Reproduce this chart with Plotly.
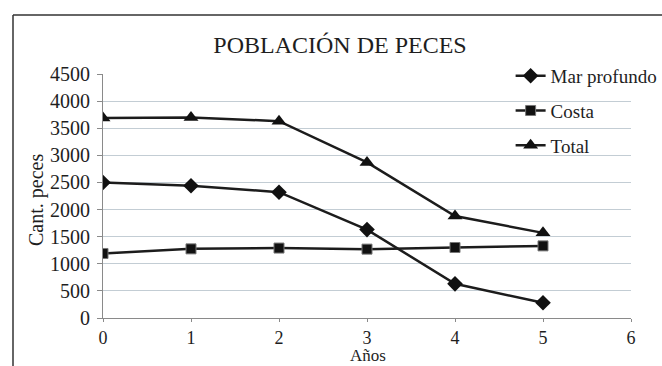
import plotly.graph_objects as go

years = [0, 1, 2, 3, 4, 5]
mar_profundo = [2500, 2440, 2320, 1630, 630, 280]
costa = [1190, 1275, 1290, 1270, 1300, 1330]
total = [3690, 3700, 3630, 2870, 1880, 1570]

series_names = ["Mar profundo", "Costa", "Total"]
x_ticks = [0, 1, 2, 3, 4, 5, 6]
y_ticks = [0, 500, 1000, 1500, 2000, 2500, 3000, 3500, 4000, 4500]

FONT = "Liberation Serif, Times New Roman, serif"
LINE = "#1c1c1c"
TXT = "#1e1e1e"

fig = go.Figure()
symbols = ["diamond", "square", "triangle-up"]
sizes = [12, 10, 13]
for name, vals, sym, sz in zip(series_names, [mar_profundo, costa, total], symbols, sizes):
    fig.add_trace(go.Scatter(
        x=years, y=vals, name=name, mode="lines+markers",
        legendgroup=name,
        line=dict(color=LINE, width=2.5),
        marker=dict(symbol=sym, size=sz, color="#111111",
                    line=dict(color="#777777", width=1 if sym == "square" else 0)),
    ))

fig.update_layout(
    width=662, height=366,
    margin=dict(l=103, r=31, t=74, b=48, autoexpand=False),
    paper_bgcolor="white", plot_bgcolor="white",
    font=dict(family=FONT, size=20, color=TXT),
    title=dict(text="POBLACIÓN DE PECES", font=dict(family=FONT, size=24, color=TXT),
               x=340 / 662, xref="container", xanchor="center",
               y=1 - 45 / 366, yref="container", yanchor="middle"),
    showlegend=True,
    legend=dict(x=0.772, xanchor="left", y=1.07, yanchor="top",
                bgcolor="rgba(0,0,0,0)", tracegroupgap=7,
                font=dict(family=FONT, size=19, color=TXT)),
    xaxis=dict(range=[0, 6], tickvals=x_ticks, showgrid=False, zeroline=False,
               showline=True, linecolor="#8a8a8a", linewidth=1,
               ticks="outside", ticklen=3, tickcolor="#8a8a8a",
               ticklabelstandoff=0, tickfont=dict(size=18)),
    yaxis=dict(range=[0, 4500], tickvals=y_ticks, showgrid=True,
               gridcolor="#c3cdd4", gridwidth=1, zeroline=False,
               showline=True, linecolor="#8a8a8a", linewidth=1,
               ticks="outside", ticklen=5, tickcolor="#8a8a8a",
               ticklabelstandoff=3, tickfont=dict(size=20)),
    annotations=[
        dict(text="Cant. peces", xref="paper", yref="paper",
             x=(36 - 103) / 528, y=(318 - 200) / 244, textangle=-90,
             showarrow=False, xanchor="center", yanchor="middle",
             font=dict(family=FONT, size=20, color=TXT)),
        dict(text="Años", xref="paper", yref="paper",
             x=(368 - 103) / 528, y=(318 - 366) / 244,
             showarrow=False, xanchor="center", yanchor="bottom",
             borderpad=0,
             font=dict(family=FONT, size=17, color=TXT)),
    ],
    shapes=[
        dict(type="line", xref="paper", yref="paper",
             x0=(13 - 103) / 528, x1=(13 - 103) / 528,
             y0=(318 - 370) / 244, y1=1 + (74 - 15) / 244,
             line=dict(color="#333333", width=1.5)),
        dict(type="line", xref="paper", yref="paper",
             x0=(13 - 103) / 528, x1=(670 - 103) / 528,
             y0=1 + (74 - 15) / 244, y1=1 + (74 - 15) / 244,
             line=dict(color="#333333", width=1.5)),
    ],
)

fig.write_html(
    "out.html",
    config={"displayModeBar": False},
    post_script="document.body.style.margin='0';document.body.style.padding='0';"
                "document.body.style.overflow='hidden';"
                "document.documentElement.style.overflow='hidden';",
)
